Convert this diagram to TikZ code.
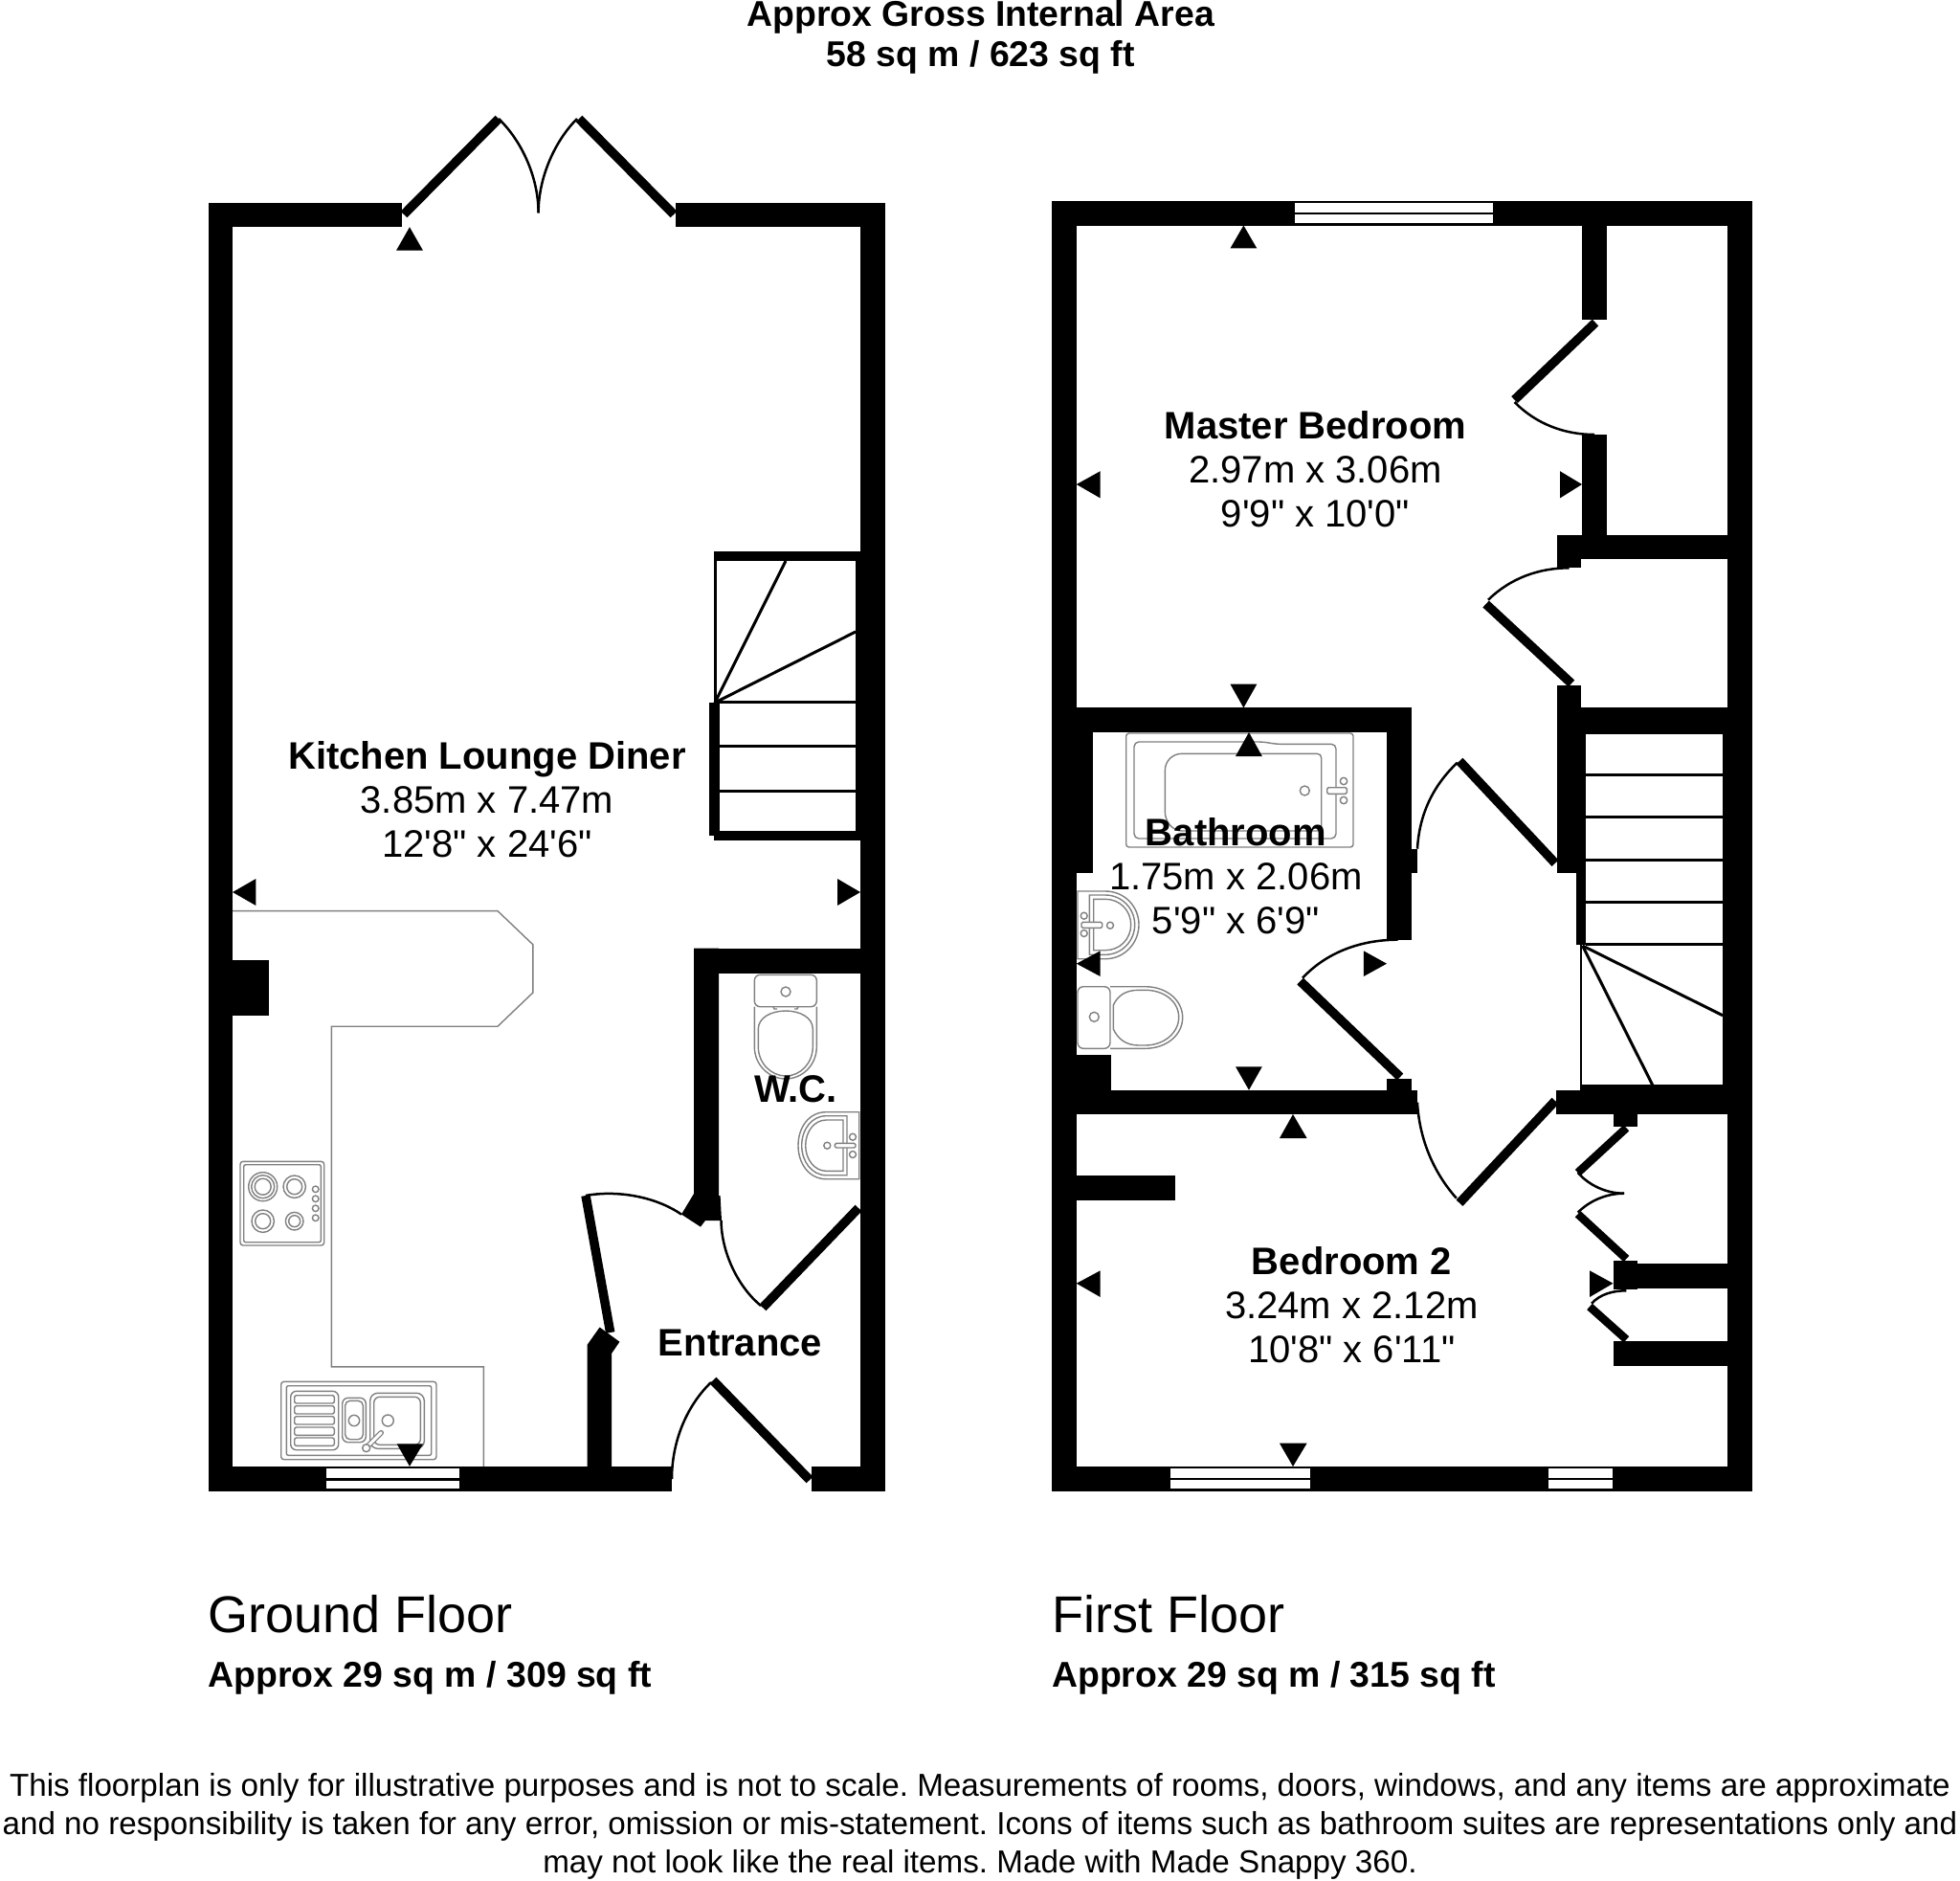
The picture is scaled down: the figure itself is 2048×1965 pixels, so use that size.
\documentclass[tikz,border=0pt]{standalone}
\usepackage{fontspec}
\newfontfamily\planfont{Liberation Sans}
\frenchspacing
\tikzset{
  wall/.style={fill=black,draw=none},
  leaf/.style={draw=black,line width=9.5pt},
  swing/.style={draw=black,line width=2.5pt},
  tread/.style={draw=black,line width=3pt},
  fix/.style={draw=black!50,line width=1.4pt,fill=none},
  glass/.style={fill=white,draw=none},
  tri/.style={fill=black,draw=none},
  room/.style={inner sep=0pt,align=center,font=\planfont\fontsize{40}{46}\selectfont},
  area/.style={inner sep=0pt,anchor=west,font=\planfont\bfseries\fontsize{37.4}{42}\selectfont},
  floorname/.style={inner sep=0pt,anchor=west,font=\planfont\fontsize{54}{60}\selectfont},
  note/.style={inner sep=0pt,align=center,font=\planfont\fontsize{33.2}{40}\selectfont}
}
\begin{document}
\begin{tikzpicture}[x=1pt,y=-1pt]
\useasboundingbox[fill=white] (0,0) rectangle (2048,1965);
% ---------- kitchen fittings
\draw[fix] (243,951.6) -- (520,951.6) -- (556.8,986.7) -- (556.8,1037) -- (520,1072.2) -- (346.4,1072.2) -- (346.4,1427.8) -- (505.4,1427.8) -- (505.4,1531.8);
\draw[fix,rounded corners=3pt] (251,1213.3) rectangle (338.7,1301);
\draw[fix,rounded corners=2pt] (254.7,1216.7) rectangle (335.3,1297.7);
\draw[fix] (274.7,1239.7) circle[radius=15] circle[radius=12] circle[radius=8.5];
\draw[fix] (307.7,1239.7) circle[radius=11.7] circle[radius=8];
\draw[fix] (274.7,1275.7) circle[radius=11.7] circle[radius=8];
\draw[fix] (307.7,1275.7) circle[radius=9.3] circle[radius=6];
\draw[fix] (329.7,1242.3) circle[radius=3.3] (329.7,1252.3) circle[radius=3.3] (329.7,1262.3) circle[radius=3.3] (329.7,1272.3) circle[radius=3.3];
\draw[fix,rounded corners=3pt] (293.7,1443.3) rectangle (456,1524.7);
\draw[fix,rounded corners=2pt] (299.3,1447.7) rectangle (450.7,1520.3);
\draw[fix,rounded corners=6pt] (303.7,1453.3) rectangle (353.7,1514.7);
\draw[fix,rounded corners=2pt] (307.7,1457.7) rectangle (349.3,1466);
\draw[fix,rounded corners=2pt] (307.7,1468.7) rectangle (349.3,1477);
\draw[fix,rounded corners=2pt] (307.7,1479.7) rectangle (349.3,1488);
\draw[fix,rounded corners=2pt] (307.7,1491) rectangle (349.3,1499.3);
\draw[fix,rounded corners=2pt] (307.7,1502) rectangle (349.3,1510.3);
\draw[fix,rounded corners=6pt] (357.7,1460.3) rectangle (382.3,1506.7);
\draw[fix,rounded corners=5pt] (360.7,1463.3) rectangle (379.3,1503.7);
\draw[fix] (370,1484) circle[radius=5.7];
\draw[fix,rounded corners=8pt] (386.7,1455.3) rectangle (443.3,1513.3);
\draw[fix,rounded corners=6pt] (390.7,1459.3) rectangle (439.3,1509.3);
\draw[fix] (405.3,1484) circle[radius=6];
\draw[draw=black!50,line width=5.5pt,line cap=round] (384,1511) -- (398.3,1496.7);
\draw[draw=white,line width=3pt,line cap=round] (384,1511) -- (398.3,1496.7);
\draw[fix,fill=white] (382.7,1512.7) circle[radius=4];
% ---------- w.c. fittings
\draw[fix,rounded corners=6pt] (788.3,1018.3) rectangle (853.3,1051.7);
\draw[fix] (821,1036) circle[radius=5];
\draw[fix] (788.3,1051.7) -- (788.3,1093.3) .. controls (788.3,1113) and (804,1127) .. (821,1127) .. controls (838,1127) and (853.3,1113) .. (853.3,1093.3) -- (853.3,1051.7);
\draw[fix] (792.3,1075) .. controls (792.3,1063) and (806,1056) .. (821,1056) .. controls (836,1056) and (849.3,1063) .. (849.3,1075) -- (849.3,1093.3) .. controls (849.3,1111) and (836,1124) .. (821,1124) .. controls (806,1124) and (792.3,1111) .. (792.3,1093.3) -- cycle;
\draw[fix] (808,1052) -- (809,1054) -- (812,1054) (830,1054) -- (833,1054) -- (834,1052);
\draw[fix] (897.7,1161.7) -- (863.3,1161.7) .. controls (845,1161.7) and (834,1178) .. (834,1196.7) .. controls (834,1215) and (845,1231.7) .. (863.3,1231.7) -- (897.7,1231.7) -- cycle;
\draw[fix] (885,1165.7) -- (863.3,1165.7) .. controls (848,1165.7) and (837.7,1180) .. (837.7,1196.7) .. controls (837.7,1213) and (848,1227.7) .. (863.3,1227.7) -- (885,1227.7) -- cycle;
\draw[fix] (881,1170) -- (863.3,1170) .. controls (851,1170) and (841.7,1182) .. (841.7,1196.7) .. controls (841.7,1211) and (851,1223.3) .. (863.3,1223.3) -- (881,1223.3) -- cycle;
\draw[fix] (864.3,1196.7) circle[radius=3.5] (891,1187.7) circle[radius=3.5] (891,1206) circle[radius=3.5];
\draw[fix,fill=white,rounded corners=1.5pt] (872.3,1194.3) rectangle (894,1199);
% ---------- bathroom fittings
\draw[fix,rounded corners=3pt] (1176.7,766) rectangle (1414,885);
\draw[fix,rounded corners=5pt] (1185,775) -- (1320,775) -- (1333.3,777.3) -- (1396,777.3) -- (1396,876) -- (1185,876) -- cycle;
\draw[fix] (1235,787.3) -- (1376,787.3) .. controls (1379,787.3) and (1380.7,789) .. (1380.7,792) -- (1380.7,862) .. controls (1380.7,866) and (1379,868) .. (1376,868) -- (1235,868) .. controls (1225,868) and (1217.3,858) .. (1217.3,848) -- (1217.3,805) .. controls (1217.3,795) and (1225,787.3) .. (1235,787.3) -- cycle;
\draw[fix] (1363.3,826) circle[radius=5] (1404,816) circle[radius=3.7] (1404,836) circle[radius=3.7];
\draw[fix,fill=white,rounded corners=1.5pt] (1386.7,822.7) rectangle (1407.3,829.3);
\draw[fix] (1126,931) -- (1155,931) .. controls (1175,931) and (1190,947) .. (1190,966) .. controls (1190,985) and (1175,1001.7) .. (1155,1001.7) -- (1126,1001.7) -- cycle;
\draw[fix] (1138.3,935) -- (1155,935) .. controls (1172,935) and (1185.7,949) .. (1185.7,966) .. controls (1185.7,983) and (1172,997.3) .. (1155,997.3) -- (1138.3,997.3) -- cycle;
\draw[fix] (1142.7,939.3) -- (1155,939.3) .. controls (1170,939.3) and (1181.7,951) .. (1181.7,966) .. controls (1181.7,981) and (1170,992.7) .. (1155,992.7) -- (1142.7,992.7) -- cycle;
\draw[fix] (1160,966.7) circle[radius=3.5] (1132.7,956.7) circle[radius=3.5] (1132.7,975) circle[radius=3.5];
\draw[fix,fill=white,rounded corners=1.5pt] (1130,963.3) rectangle (1151.7,969.3);
\draw[fix,rounded corners=6pt] (1126,1030.7) rectangle (1160,1095.3);
\draw[fix] (1143.3,1062.3) circle[radius=5];
\draw[fix] (1160,1030.7) -- (1196.7,1030.7) .. controls (1219,1030.7) and (1235.7,1045) .. (1235.7,1063) .. controls (1235.7,1081) and (1219,1095.3) .. (1196.7,1095.3) -- (1160,1095.3);
\draw[fix] (1163.3,1050) .. controls (1168,1040) and (1176,1034.3) .. (1190,1034.3) -- (1196.7,1034.3) .. controls (1216,1034.3) and (1231.7,1046) .. (1231.7,1062.7) .. controls (1231.7,1079) and (1216,1092) .. (1196.7,1092) -- (1190,1092) .. controls (1176,1092) and (1168,1085) .. (1163.3,1075) -- cycle;
% ---------- ground floor walls
\fill[wall] (217.5,211.7) rectangle (243,1557.8);
\fill[wall] (217.5,211.7) rectangle (420,237.2);
\fill[wall] (706,211.7) rectangle (925,237.2);
\fill[wall] (899,211.7) rectangle (925,1557.8);
\fill[wall] (217.5,1531.8) rectangle (702,1557.8);
\fill[wall] (847.6,1531.8) rectangle (925,1557.8);
\fill[wall] (243,1002.8) rectangle (281,1061.3);
\fill[wall] (725,990.6) rectangle (899,1016.7);
\fill[wall] (725,990.6) -- (751,990.6) -- (751,1249) -- (752.6,1249) -- (754,1275) -- (737,1275) -- (732,1281.6) -- (712,1268.6) -- (725,1247) -- cycle;
\fill[wall] (613.5,1531.8) -- (613.5,1405) -- (626.6,1386.5) -- (647.4,1401.7) -- (639,1414) -- (639,1531.8) -- cycle;
\fill[glass] (341,1534.4) rectangle (480,1543.5);
\fill[glass] (341,1546.6) rectangle (480,1555);
% stairs
\fill[wall] (746,576) rectangle (899,586);
\fill[wall] (746,868) rectangle (899,878);
\fill[wall] (741,734) rectangle (752,873);
\fill[wall] (894,576) rectangle (899,878);
\draw[tread] (747,586) -- (747,734);
\draw[tread] (747,733.7) -- (894,733.7);
\draw[tread] (747,779.6) -- (894,779.6);
\draw[tread] (747,826) -- (894,826);
\draw[tread] (747,734) -- (821,586);
\draw[tread] (747,734) -- (894,660);
% doors
\draw[leaf] (422,224) -- (521,124);
\draw[leaf] (704,224) -- (605,124);
\draw[swing] (521,124) .. controls (545,147) and (562.6,185) .. (562.6,222.4);
\draw[swing] (603,124) .. controls (580,147) and (562.6,185) .. (562.6,222.4);
\draw[leaf] (612,1249) -- (637.7,1392);
\draw[swing] (612,1249) .. controls (645,1243) and (685,1250) .. (712,1268.6);
\draw[leaf] (745,1442) -- (846,1546);
\draw[swing] (743,1444) .. controls (718,1468) and (702,1505) .. (702,1545);
\draw[leaf] (897,1262) -- (797,1366);
\draw[swing] (753.5,1275) .. controls (754,1310) and (772,1345) .. (795,1364);
% ---------- first floor walls
\fill[wall] (1099,209.5) rectangle (1124.8,1557.7);
\fill[wall] (1805,209.5) rectangle (1830.7,1557.7);
\fill[wall] (1099,209.5) rectangle (1830.7,235.5);
\fill[wall] (1099,1532) rectangle (1830.7,1557.7);
\fill[glass] (1352.6,212) rectangle (1559.6,221.6);
\fill[glass] (1352.6,224) rectangle (1559.6,233);
\fill[glass] (1222.8,1534.3) rectangle (1369,1543.7);
\fill[glass] (1222.8,1546.3) rectangle (1369,1555.3);
\fill[glass] (1617.8,1534.3) rectangle (1685,1543.7);
\fill[glass] (1617.8,1546.3) rectangle (1685,1555.3);
\fill[wall] (1653,235) rectangle (1679,334.4);
\fill[wall] (1653,454) rectangle (1679,558.6);
\fill[wall] (1627.3,558.6) rectangle (1805,583.7);
\fill[wall] (1627.3,558.6) rectangle (1652.2,592.8);
\fill[wall] (1124.8,739.4) rectangle (1474.5,765);
\fill[wall] (1124.8,739.4) rectangle (1142,911.7);
\fill[wall] (1449,739.4) rectangle (1474.5,981.7);
\fill[wall] (1474.5,886.7) rectangle (1481,911.7);
\fill[wall] (1124.8,1101.7) rectangle (1161,1138.7);
\fill[wall] (1124.8,1138.7) rectangle (1481,1164);
\fill[wall] (1449,1127.3) rectangle (1474.5,1138.7);
\fill[wall] (1627,715.6) rectangle (1652,911.7);
\fill[wall] (1627,739.4) rectangle (1805,766.7);
\fill[wall] (1647,766.7) rectangle (1657,986.7);
\fill[wall] (1800,766.7) rectangle (1805,1133.3);
\fill[wall] (1652,1133.3) rectangle (1805,1164);
\fill[wall] (1626,1138.7) rectangle (1652,1164);
\fill[wall] (1685.5,1164) rectangle (1711,1176.7);
\fill[wall] (1124.8,1228.3) rectangle (1228,1254.3);
\fill[wall] (1685.5,1316.7) rectangle (1711,1346.7);
\fill[wall] (1685.5,1320) rectangle (1805,1346);
\fill[wall] (1685.5,1401) rectangle (1805,1427);
% first floor stairs
\draw[tread] (1657,809.3) -- (1800,809.3);
\draw[tread] (1657,853.7) -- (1800,853.7);
\draw[tread] (1657,898) -- (1800,898);
\draw[tread] (1657,942.3) -- (1800,942.3);
\draw[tread] (1657,986.7) -- (1800,986.7);
\draw[tread,line width=2pt] (1652,986.7) -- (1652,1138.7);
\draw[tread] (1653.6,988) -- (1800,1060.7);
\draw[tread] (1653.6,988) -- (1727,1134);
% first floor doors
\draw[leaf] (1667,337) -- (1582.5,417.6);
\draw[swing] (1582.5,420) .. controls (1605,443) and (1635,454) .. (1666,454);
\draw[leaf] (1552.6,631) -- (1642,714);
\draw[swing] (1555,626.7) .. controls (1578,604) and (1608,593.3) .. (1639.7,593.3);
\draw[leaf] (1525,795) -- (1625,901.7);
\draw[swing] (1481,886.7) .. controls (1483,850) and (1498,820) .. (1522.8,796.7);
\draw[leaf] (1625,1150) -- (1525,1256.7);
\draw[swing] (1481,1151.7) .. controls (1483,1190) and (1498,1225) .. (1521.8,1251.7);
\draw[leaf] (1358.6,1025) -- (1463,1125);
\draw[swing] (1361,1021.7) .. controls (1385,996) and (1420,981.7) .. (1460.6,981.7);
\draw[leaf,line width=8.5pt] (1699.4,1178.3) -- (1648.7,1225);
\draw[leaf,line width=8.5pt] (1648.7,1268.3) -- (1699.4,1315);
\draw[swing] (1648.7,1225) .. controls (1660,1238) and (1678,1246.7) .. (1697,1246.7);
\draw[swing] (1648.7,1266.7) .. controls (1660,1255) and (1678,1246.7) .. (1697,1246.7);
\draw[swing] (1699.4,1348.3) .. controls (1685,1348.3) and (1672,1352) .. (1663,1361.7);
\draw[leaf,line width=8.5pt] (1661,1365) -- (1699.4,1399.3);
% ---------- dimension triangles
\fill[tri] (428,237.2) -- (414,261.7) -- (442,261.7) -- cycle;
\fill[tri] (243,932) -- (267.4,918) -- (267.4,946) -- cycle;
\fill[tri] (899,932) -- (875,918) -- (875,946) -- cycle;
\fill[tri] (428,1531.8) -- (414.7,1508.4) -- (442,1508.4) -- cycle;
\fill[tri] (1299.4,235.5) -- (1285.5,259.4) -- (1313.3,259.4) -- cycle;
\fill[tri] (1124.8,506) -- (1149.7,492.2) -- (1149.7,520.4) -- cycle;
\fill[tri] (1653,506) -- (1630,492.2) -- (1630,520.4) -- cycle;
\fill[tri] (1299.4,739.4) -- (1285.5,714.7) -- (1313.3,714.7) -- cycle;
\fill[tri] (1305,765) -- (1291,790) -- (1318.8,790) -- cycle;
\fill[tri] (1449,1006.7) -- (1424.8,993.3) -- (1424.8,1020) -- cycle;
\fill[tri] (1124.8,1006.7) -- (1149.7,993.3) -- (1149.7,1020) -- cycle;
\fill[tri] (1305,1138.7) -- (1291,1114.3) -- (1318.8,1114.3) -- cycle;
\fill[tri] (1351,1164) -- (1337,1189) -- (1365.6,1189) -- cycle;
\fill[tri] (1124.8,1340.7) -- (1149.7,1327.3) -- (1149.7,1355) -- cycle;
\fill[tri] (1685.5,1340.7) -- (1661,1327.3) -- (1661,1355) -- cycle;
\fill[tri] (1351,1532) -- (1337,1507.7) -- (1365.6,1507.7) -- cycle;
% ---------- labels
\node[area,anchor=center,align=center] (title) at (1024.7,39) {Approx Gross Internal Area\\58 sq m / 623 sq ft};
\node[room] (kitchen) at (509,835) {\textbf{Kitchen Lounge Diner}\\3.85m x 7.47m\\12'8" x 24'6"};
\node[room] (wc) at (831.6,1137.6) {\textbf{W.C.}};
\node[room] (entrance) at (773.5,1403) {\textbf{Entrance}};
\node[room] (master) at (1374.5,490) {\textbf{Master Bedroom}\\2.97m x 3.06m\\9'9" x 10'0"};
\node[room] (bath) at (1291.4,915.4) {\textbf{Bathroom}\\1.75m x 2.06m\\5'9" x 6'9"};
\node[room] (bed2) at (1412.4,1363) {\textbf{Bedroom 2}\\3.24m x 2.12m\\10'8" x 6'11"};
\node[floorname] (gf) at (217.5,1686) {Ground Floor};
\node[area] (gfa) at (217.5,1753) {Approx 29 sq m / 309 sq ft};
\node[floorname] (ff) at (1099,1686) {First Floor};
\node[area] (ffa) at (1099,1753) {Approx 29 sq m / 315 sq ft};
\node[note] (disc) at (1024,1907.5) {This floorplan is only for illustrative purposes and is not to scale. Measurements of rooms, doors, windows, and any items are approximate\\and no responsibility is taken for any error, omission or mis-statement. Icons of items such as bathroom suites are representations only and\\may not look like the real items. Made with Made Snappy 360.};
\end{tikzpicture}
\end{document}
